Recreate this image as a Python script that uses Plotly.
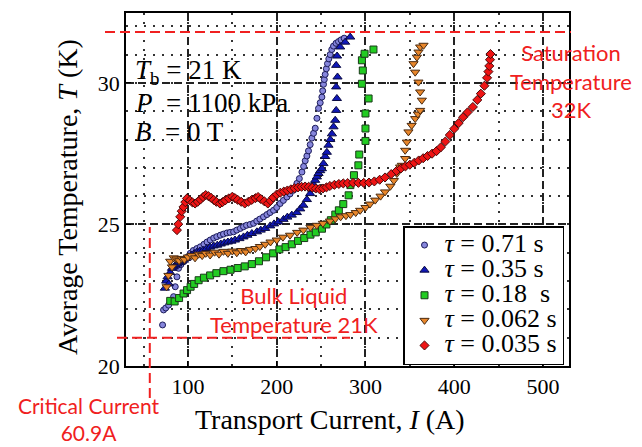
import plotly.graph_objects as go

# ---------------- data ----------------
I_071 = [71.4, 72.5, 75, 78.2, 81, 83.8, 85.7, 87.6, 89.4, 92, 95, 98, 102.6, 106, 110, 113.9, 118, 121.5,
         125.1, 129, 132.5, 136.4, 140, 144, 147.5, 151.4, 155, 159, 162.6, 166, 170, 173.9, 177.5, 181,
         185.1, 189, 192.5, 196.4, 200, 203.9, 207.5, 211.5, 215, 218.9, 222.7, 225.5, 228.4, 230.3, 232.1,
         234, 235.8, 237.7, 239.6, 241.5, 243.4, 245.3, 247.1, 249, 250.9, 251.8, 252.7, 253.6, 254.6,
         255.9, 257.2, 258.7, 260.2, 262, 264, 266.8, 269.6, 272.5, 276]
T_071 = [21.45, 21.98, 22.05, 22.15, 22.3, 22.45, 22.8, 23.15, 23.45, 23.58, 23.68, 23.82, 23.98, 24.08, 24.15,
         24.21, 24.3, 24.38, 24.45, 24.52, 24.57, 24.62, 24.66, 24.7, 24.72, 24.74, 24.8, 24.86, 24.92, 24.97,
         25.0, 25.04, 25.12, 25.19, 25.27, 25.35, 25.42, 25.5, 25.6, 25.74, 25.85, 25.97, 26.08, 26.21, 26.45,
         26.62, 26.85, 27.05, 27.25, 27.42, 27.6, 27.82, 28.05, 28.22, 28.4, 28.75, 29.1, 29.3, 29.5, 29.72,
         29.95, 30.12, 30.3, 30.5, 30.68, 30.85, 31.0, 31.18, 31.3, 31.4, 31.46, 31.52, 31.58]

I_035 = [74, 75.5, 77, 78.5, 80, 82, 84, 86, 88, 90.5, 93, 95.5, 98, 101, 104, 107, 110, 113.5, 117, 121,
         125, 129, 133, 137, 141, 145, 149, 153, 158, 162.6, 167, 172, 177.7, 182, 187, 192.7, 197, 202,
         207.7, 212, 217, 222.7, 226.5, 230, 234, 237.7, 239.5, 241.4, 243.3, 245.3, 247.1, 249, 250.9,
         252.7, 254.6, 256.5, 258.3, 260.3, 262.2, 264, 265.9, 267, 267.8, 267, 268.5, 267, 268, 271.5,
         277.1, 282.8]
T_035 = [22.75, 23.0, 23.15, 22.9, 23.3, 23.45, 23.5, 23.56, 23.6, 23.65, 23.7, 23.74, 23.8, 23.86, 23.92,
         23.97, 24.02, 24.06, 24.09, 24.15, 24.2, 24.24, 24.27, 24.31, 24.35, 24.38, 24.41, 24.45, 24.5,
         24.56, 24.62, 24.68, 24.74, 24.8, 24.86, 24.95, 25.02, 25.09, 25.18, 25.26, 25.33, 25.42, 25.55,
         25.68, 25.88, 26.09, 26.25, 26.42, 26.56, 26.68, 26.8, 26.9, 26.97, 27.15, 27.4, 27.55, 27.8, 28.0,
         28.2, 28.45, 28.68, 29.03, 29.45, 29.86, 30.21, 30.62, 30.95, 31.27, 31.44, 31.62]

I_018 = [80, 85, 90, 95, 99, 103, 107, 112, 118, 125, 132, 140, 148, 156, 164, 172, 180, 188, 196, 203, 210,
         217, 224, 231, 238, 244, 251, 256, 261, 266, 270, 275, 281, 283, 287, 292, 293, 300, 300, 300,
         303.5, 296, 297, 296, 299, 309]
T_018 = [22.3, 22.28, 22.4, 22.56, 22.68, 22.8, 22.9, 23.03, 23.12, 23.2, 23.28, 23.35, 23.4, 23.46, 23.52,
         23.6, 23.7, 23.84, 23.98, 24.12, 24.2, 24.3, 24.42, 24.52, 24.64, 24.72, 24.85, 25.0, 25.15, 25.35,
         25.5, 25.72, 26.03, 26.39, 26.74, 27.09, 27.47, 27.95, 28.39, 28.92, 29.45, 29.97, 30.44, 30.8,
         31.03, 31.18]

I_0062 = [76, 78, 80, 82, 84, 87, 90, 93, 96, 100, 104, 108, 112, 116, 120, 125, 130, 135, 140, 145, 150,
          155, 160, 165, 170, 176, 181, 187, 193, 200, 207, 215, 223, 230, 238, 245, 252, 260, 266, 272,
          278, 283, 289, 294, 300, 305, 311, 317, 322, 328, 332, 335.4, 339, 341, 344.7, 344.7, 346.6,
          348.4, 352, 356, 359, 361.6, 363.5, 361.6, 359.7, 356, 354.1, 357.9, 359.7, 361.6, 365.4]
T_0062 = [22.8, 23.2, 23.7, 23.5, 23.82, 23.78, 23.72, 23.8, 23.76, 23.85, 23.9, 23.82, 23.95, 23.9, 23.98,
          23.92, 24.02, 23.95, 24.05, 23.98, 24.06, 24.0, 24.08, 24.03, 24.12, 24.15, 24.22, 24.3, 24.38,
          24.45, 24.55, 24.62, 24.72, 24.8, 24.9, 24.97, 25.04, 25.12, 25.2, 25.27, 25.31, 25.35, 25.42,
          25.5, 25.6, 25.72, 25.86, 26.0, 26.15, 26.35, 26.55, 26.8, 27.03, 27.09, 27.33, 27.62, 27.91,
          28.27, 28.5, 28.74, 28.9, 29.03, 29.39, 29.68, 30.03, 30.38, 30.68, 30.91, 31.09, 31.27, 31.33]

I_0035 = [87.6, 89.1, 91.3, 93, 95, 97, 98.9, 102, 105, 108, 111, 114, 117, 120, 123, 126, 129, 132, 136,
          139, 142, 146, 150, 153, 156, 160, 164, 168, 172, 176, 179, 182, 186, 190, 193, 196, 200, 204,
          208, 212, 216, 220, 224, 228, 232, 236, 240, 244, 248, 252, 256, 260, 265, 270, 275, 280, 286,
          292, 298, 304, 310, 316, 322, 329, 335, 340, 345, 350, 355, 360, 365, 370, 375, 380, 385, 390,
          395, 400, 405, 410, 415, 421, 426, 430, 434, 437, 438.5, 439.5, 440.3, 440.8]
T_0035 = [24.8, 25.01, 25.27, 25.47, 25.62, 25.79, 25.92, 25.85, 25.78, 25.74, 25.8, 25.88, 25.97, 26.04,
          26.0, 25.94, 25.87, 25.8, 25.74, 25.79, 25.85, 25.92, 25.98, 25.93, 25.87, 25.8, 25.74, 25.8,
          25.87, 25.93, 25.97, 25.9, 25.82, 25.74, 25.84, 25.95, 26.06, 26.12, 26.16, 26.2, 26.24, 26.28,
          26.31, 26.33, 26.34, 26.33, 26.3, 26.27, 26.25, 26.27, 26.31, 26.36, 26.4, 26.43, 26.45, 26.46,
          26.47, 26.47, 26.47, 26.48, 26.52, 26.58, 26.66, 26.78, 26.89, 26.98, 27.05, 27.11, 27.18, 27.26,
          27.34, 27.42, 27.5, 27.59, 27.73, 27.93, 28.16, 28.38, 28.58, 28.79, 28.96, 29.15, 29.4, 29.62,
          29.9, 30.18, 30.4, 30.6, 30.82, 31.02]

series_names = ["<i>τ</i> = 0.71 s", "<i>τ</i> = 0.35 s", "<i>τ</i> = 0.18  s",
                "<i>τ</i> = 0.062 s", "<i>τ</i> = 0.035 s"]

T_SAT = 31.8        # saturation temperature line (drawn position)
T_BULK = 21.0       # bulk liquid temperature
I_CRIT = 57.0       # critical current line (drawn position)

x_ticks = [100, 200, 300, 400, 500]
y_ticks = [20, 25, 30]

# ---------------- geometry helpers ----------------
FIG_W, FIG_H = 642, 447
ML, MR, MT, MB = 126, 73, 13, 81
PW, PH = FIG_W - ML - MR, FIG_H - MT - MB


def px2x(px):
    return (px - ML) / PW


def py2y(py):
    return (MT + PH - py) / PH


SERIF = "Liberation Serif"
SANS = "Lato"
RED = "#f02020"

styles = [
    dict(symbol="circle", size=6, color="#8686dc", line=dict(color="#1c1c5a", width=1)),
    dict(symbol="triangle-up", size=8, color="#1018b8", line=dict(color="#0a0a40", width=1)),
    dict(symbol="square", size=7, color="#22cc22", line=dict(color="#1a3a1a", width=1)),
    dict(symbol="triangle-down", size=8, color="#e8862a", line=dict(color="#4a2a10", width=1)),
    dict(symbol="diamond", size=7, color="#ee1414", line=dict(color="#4a0a0a", width=1)),
]
xs = [I_071, I_035, I_018, I_0062, I_0035]
ys = [T_071, T_035, T_018, T_0062, T_0035]

fig = go.Figure()
for x, y, name, st in zip(xs, ys, series_names, styles):
    fig.add_trace(go.Scatter(x=x, y=y, mode="markers", name=name, marker=st))

LEG_TXT = 26
for tr in fig.data:
    tr.name = '<span style="font-size:%dpx">%s</span>' % (LEG_TXT, tr.name)

grid_major = dict(showgrid=True, gridcolor="#222", gridwidth=1.5, griddash="8px,4px")

fig.update_xaxes(range=[30.2, 529.3], tickvals=x_ticks, ticks="inside", ticklen=5, tickcolor="black",
                 showline=True, linecolor="black", linewidth=1.5, mirror=True, zeroline=False,
                 tickfont=dict(family=SERIF, size=22, color="black"),
                 minor=dict(dtick=50, tick0=0, showgrid=True, gridcolor="#333", gridwidth=1.5,
                            griddash="2px,7px"),
                 **grid_major)
fig.update_yaxes(range=[20, 32.47], tickvals=y_ticks, ticks="inside", ticklen=5, tickcolor="black",
                 showline=True, linecolor="black", linewidth=1.5, mirror=True, zeroline=False,
                 tickfont=dict(family=SERIF, size=22, color="black"),
                 minor=dict(dtick=1, tick0=0, showgrid=True, gridcolor="#333", gridwidth=1.5,
                            griddash="2px,7px"),
                 **grid_major)

shapes = [
    dict(type="line", xref="paper", yref="y", x0=px2x(105), x1=px2x(571), y0=T_SAT, y1=T_SAT,
         line=dict(color=RED, width=2, dash="10px,5px")),
    dict(type="line", xref="paper", yref="y", x0=px2x(117), x1=px2x(350), y0=T_BULK, y1=T_BULK,
         line=dict(color=RED, width=2, dash="10px,5px")),
    dict(type="line", xref="x", yref="paper", x0=I_CRIT, x1=I_CRIT, y0=py2y(398), y1=py2y(227),
         line=dict(color=RED, width=2, dash="10px,5px")),
    # legend shadow
    dict(type="rect", xref="paper", yref="paper", x0=px2x(407), x1=px2x(563), y0=py2y(361), y1=py2y(230),
         fillcolor="black", line=dict(width=0), layer="above"),
]

annotations = [
    dict(text="<i>T</i><sub>b</sub> = 21 K", x=px2x(133), y=py2y(72)),
    dict(text="<i>P</i>\u00a0\u00a0= 1100 kPa", x=px2x(133), y=py2y(103)),
    dict(text="<i>B</i>\u00a0\u00a0= 0 T", x=px2x(133), y=py2y(132)),
]
annos = []
for a in annotations:
    annos.append(dict(text=a["text"], x=a["x"], y=a["y"], xref="paper", yref="paper", xanchor="left",
                      yanchor="middle", showarrow=False, font=dict(family=SERIF, size=27, color="black")))

annos += [
    dict(text="Saturation<br>Temperature<br>32K", x=px2x(571), y=py2y(81), xref="paper", yref="paper",
         xanchor="center", yanchor="middle", showarrow=False, align="center",
         font=dict(family=SANS, size=22, color=RED)),
    dict(text="Bulk Liquid<br>Temperature 21K", x=px2x(294), y=py2y(310), xref="paper", yref="paper",
         xanchor="center", yanchor="middle", showarrow=False, align="center",
         font=dict(family=SANS, size=22, color=RED)),
    dict(text="Critical Current<br>60.9A", x=px2x(88), y=py2y(419), xref="paper", yref="paper",
         xanchor="center", yanchor="middle", showarrow=False, align="center",
         font=dict(family=SANS, size=21, color=RED)),
    dict(text="Transport Current, <i>I</i> (A)", x=px2x(330), y=py2y(419), xref="paper", yref="paper",
         xanchor="center", yanchor="middle", showarrow=False, font=dict(family=SERIF, size=28, color="black")),
    dict(text="Average Temperature, <i>T</i> (K)", x=px2x(67), y=py2y(197), xref="paper", yref="paper",
         xanchor="center", yanchor="middle", showarrow=False, textangle=-90,
         font=dict(family=SERIF, size=28, color="black")),
]

fig.update_layout(
    width=FIG_W, height=FIG_H, margin=dict(l=ML, r=MR, t=MT, b=MB, autoexpand=False),
    paper_bgcolor="white", plot_bgcolor="white",
    shapes=shapes, annotations=annos,
    legend=dict(x=px2x(403), y=py2y(226), xanchor="left", yanchor="top", bgcolor="white",
                bordercolor="black", borderwidth=1.5, font=dict(family=SERIF, size=17, color="black"),
                tracegroupgap=0),
)

fig.write_html("out.html")
